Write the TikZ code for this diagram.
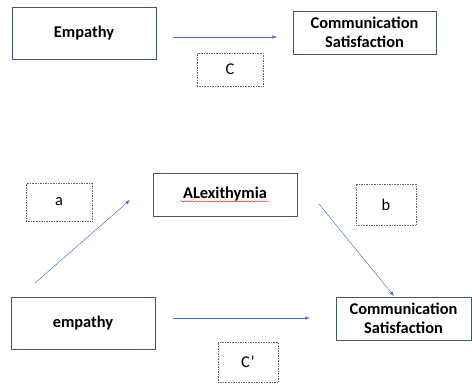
\documentclass[tikz,border=0pt]{standalone}
\usepackage{fontspec}
\setmainfont{Carlito}
\usetikzlibrary{arrows,decorations.pathmorphing}

\begin{document}
\begin{tikzpicture}[x=0.03cm, y=-0.03cm]
        \tikzset{varbox/.style={draw={rgb,255:red,68;green,84;blue,106}, thick, font=\fontsize{14}{16.5}\selectfont\bfseries, align=center, inner sep=0pt}}
        \tikzset{pathbox/.style={draw=black!60, densely dotted, font=\fontsize{14}{16.5}\selectfont, inner sep=0pt}}
        \tikzset{myarrow/.style={-latex, color={rgb,255:red,68;green,114;blue,196}}}
        \useasboundingbox (0,0) rectangle (472,383);
        % total effect
        \node[varbox, minimum width=4.32cm, minimum height=1.56cm] (emp) at (84, 33) {Empathy};
        \node[varbox, minimum width=4.29cm, minimum height=1.29cm] (sat) at (364.5, 32.5) {Communication\\Satisfaction};
        \node[pathbox, minimum width=1.98cm, minimum height=0.99cm] (c) at (230, 69.5) {C};
        \coordinate (t1) at (173, 37);
        \coordinate (t2) at (277, 37);
        \draw[myarrow] (t1) -- (t2);
        % mediation
        \node[pathbox, minimum width=1.98cm, minimum height=1.14cm] (a) at (59, 202) {a};
        \node[varbox, minimum width=4.32cm, minimum height=1.29cm] (alex) at (225, 194.5) {ALexithymia};
        \draw[red, thin, decorate, decoration={snake, amplitude=0.4, segment length=3}] ([xshift=-0.5pt, yshift=-2pt]alex.base west -| alex.center) ++(-44,0) -- ++(88,0);
        \node[pathbox, minimum width=1.8cm, minimum height=1.23cm] (b) at (386, 204.5) {b};
        \node[varbox, minimum width=4.32cm, minimum height=1.56cm] (emp2) at (83, 323) {empathy};
        \node[varbox, minimum width=4.05cm, minimum height=1.29cm] (sat2) at (403.5, 318.5) {Communication\\Satisfaction};
        \node[pathbox, minimum width=1.8cm, minimum height=1.2cm] (c2) at (248, 362) {C’};
        \coordinate (a1) at (35, 283);
        \coordinate (a2) at (130, 200);
        \coordinate (b1) at (319, 204);
        \coordinate (b2) at (394, 296);
        \coordinate (d1) at (173, 318);
        \coordinate (d2) at (310, 318);
        \draw[myarrow] (a1) -- (a2);
        \draw[myarrow] (b1) -- (b2);
        \draw[myarrow] (d1) -- (d2);
      \end{tikzpicture}
\end{document}
